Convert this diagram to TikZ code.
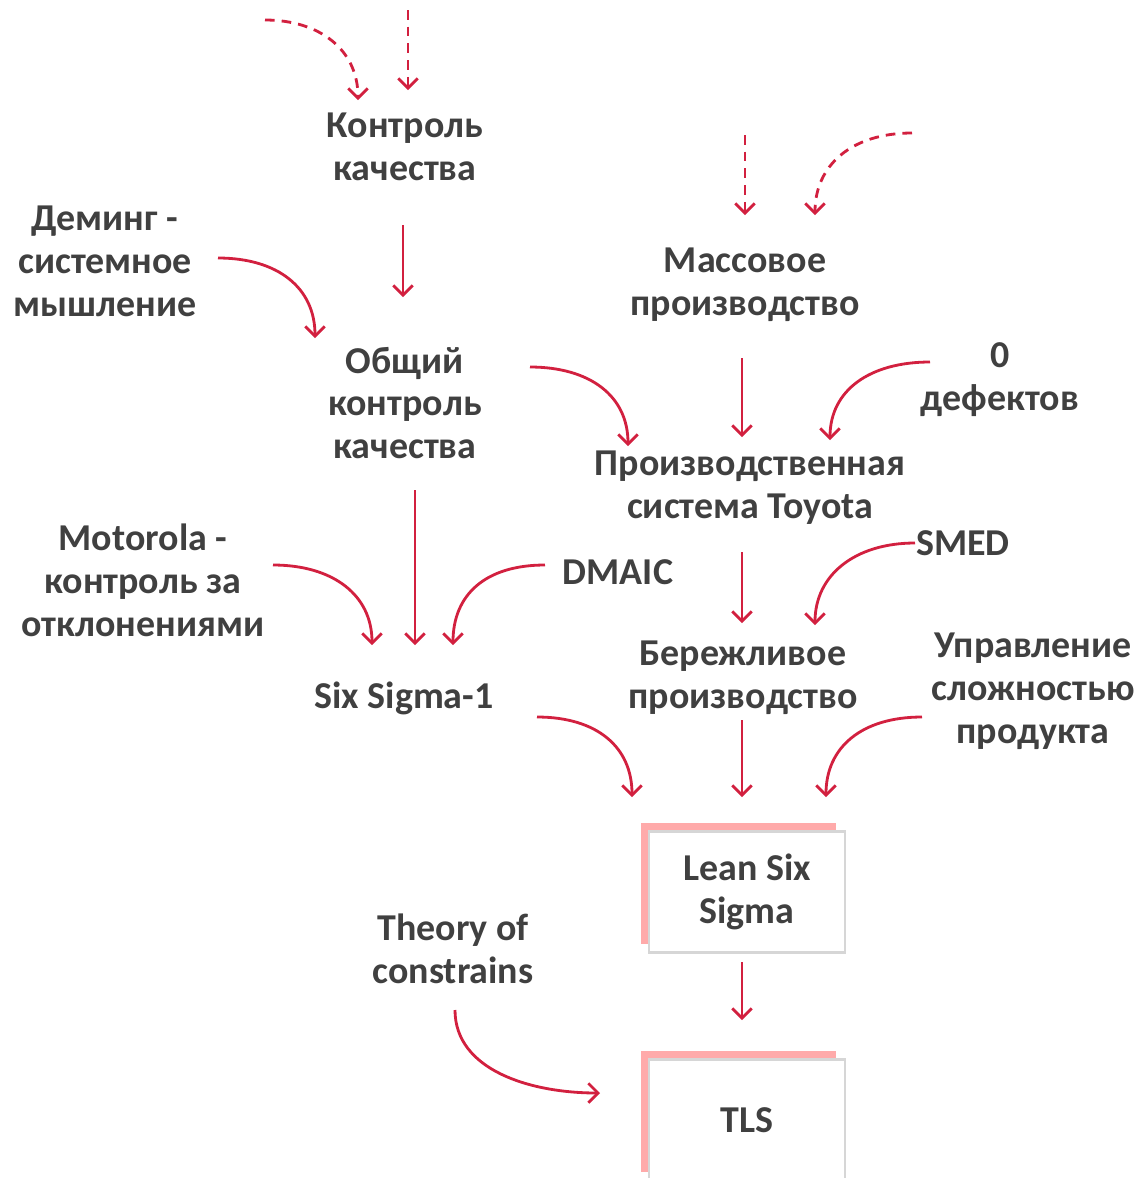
\documentclass[tikz,border=0pt]{standalone}
\usepackage{fontspec}
\setmainfont{Carlito}
\usepackage{xcolor}
\definecolor{crimson}{HTML}{D2203F}
\definecolor{textgray}{HTML}{404040}
\definecolor{boxgray}{HTML}{D6D6D6}
\definecolor{shadowpink}{HTML}{FFAAAA}
\usepackage{tikz}
\usetikzlibrary{
  arrows.meta,
  shadows
}

\begin{document}
\begin{tikzpicture}[
  x=0.02cm, y=-0.02cm,
  lbl/.style={align=center, text=textgray, font=\fontsize{21.6}{24.4}\selectfont\bfseries},
  box/.style={lbl, rectangle, draw=boxgray, line width=1.6pt, fill=white, minimum width=3.92cm, minimum height=2.42cm,
    general shadow={fill=shadowpink, shadow xshift=-0.17cm, shadow yshift=0.17cm}},
  arr/.style={-{Straight Barb[length=5.5pt, width=11pt]}, line width=1.6pt, crimson},
  darr/.style={arr, dash pattern=on 5.5pt off 4pt},
]
\clip (0,0) rectangle (1145,1178);

% Nodos
\node[lbl] (kontrol) at (405,147) {Контроль\\качества};
\node[lbl] (deming) at (105,261) {Деминг -\\системное\\мышление};
\node[lbl] (massovoe) at (745,285) {Массовое\\производство};
\node[lbl] (obshiy) at (405,403) {Общий\\контроль\\качества};
\node[lbl] (nuldef) at (1000,380) {0\\дефектов};
\node[lbl] (toyota) at (750,488) {Производственная\\система Toyota};
\node[lbl] (motorola) at (143,580) {Motorola -\\контроль за\\отклонениями};
\node[lbl] (dmaic) at (618,572) {DMAIC};
\node[lbl] (smed) at (963,543) {SMED};
\node[lbl] (sixsigma) at (404,698) {Six Sigma-1};
\node[lbl] (berezh) at (743,678) {Бережливое\\производство};
\node[lbl] (upravl) at (1033,691) {Управление\\сложностью\\продукта};
\node[box] (lss) at (747,892) {Lean Six\\Sigma};
\node[lbl] (toc) at (453,949) {Theory of\\constrains};
\node[box] (tls) at (747,1120) {TLS};

% Extremos de las flechas
\coordinate (kontrol-i1s) at (265,20);  \coordinate (kontrol-i1) at (358,100);
\coordinate (kontrol-i2s) at (408,10);  \coordinate (kontrol-i2) at (408,90);
\coordinate (kontrol-o) at (403,225);   \coordinate (obshiy-i1) at (403,297);
\coordinate (deming-o) at (218,258);    \coordinate (obshiy-i2) at (315,338);
\coordinate (massovoe-i1s) at (745,135); \coordinate (massovoe-i1) at (745,215);
\coordinate (massovoe-i2s) at (912,133); \coordinate (massovoe-i2) at (815,215);
\coordinate (massovoe-o) at (742,358);  \coordinate (toyota-i1) at (742,437);
\coordinate (obshiy-o1) at (530,367);   \coordinate (toyota-i2) at (628,446);
\coordinate (nuldef-o) at (930,362);    \coordinate (toyota-i3) at (830,440);
\coordinate (obshiy-o2) at (415,490);   \coordinate (sixsigma-i1) at (415,645);
\coordinate (motorola-o) at (273,565);  \coordinate (sixsigma-i2) at (372,645);
\coordinate (dmaic-o) at (545,565);     \coordinate (sixsigma-i3) at (453,645);
\coordinate (toyota-o) at (742,552);    \coordinate (berezh-i1) at (742,623);
\coordinate (smed-o) at (915,543);      \coordinate (berezh-i2) at (815,625);
\coordinate (sixsigma-o) at (537,717);  \coordinate (lss-i1) at (632,797);
\coordinate (berezh-o) at (742,720);    \coordinate (lss-i2) at (742,797);
\coordinate (upravl-o) at (922,717);    \coordinate (lss-i3) at (826,797);
\coordinate (lss-o) at (742,962);       \coordinate (tls-i1) at (742,1020);
\coordinate (toc-o) at (455,1010);      \coordinate (tls-i2) at (600,1093);

% Flechas punteadas (entradas externas)
\draw[darr] (kontrol-i1s) .. controls +(55,0) and +(0,-50) .. (kontrol-i1);
\draw[darr] (kontrol-i2s) -- (kontrol-i2);
\draw[darr] (massovoe-i1s) -- (massovoe-i1);
\draw[darr] (massovoe-i2s) .. controls +(-60,0) and +(0,-50) .. (massovoe-i2);

% Flechas entre etapas
\draw[arr] (kontrol-o) -- (obshiy-i1);
\draw[arr] (deming-o) .. controls +(60,0) and +(0,-50) .. (obshiy-i2);
\draw[arr] (massovoe-o) -- (toyota-i1);
\draw[arr] (obshiy-o1) .. controls +(60,0) and +(0,-50) .. (toyota-i2);
\draw[arr] (nuldef-o) .. controls +(-60,0) and +(0,-50) .. (toyota-i3);
\draw[arr] (obshiy-o2) -- (sixsigma-i1);
\draw[arr] (motorola-o) .. controls +(60,0) and +(0,-50) .. (sixsigma-i2);
\draw[arr] (dmaic-o) .. controls +(-60,0) and +(0,-50) .. (sixsigma-i3);
\draw[arr] (toyota-o) -- (berezh-i1);
\draw[arr] (smed-o) .. controls +(-60,0) and +(0,-50) .. (berezh-i2);
\draw[arr] (sixsigma-o) .. controls +(60,0) and +(0,-50) .. (lss-i1);
\draw[arr] (berezh-o) -- (lss-i2);
\draw[arr] (upravl-o) .. controls +(-60,0) and +(0,-50) .. (lss-i3);
\draw[arr] (lss-o) -- (tls-i1);
\draw[arr] (toc-o) .. controls +(0,60) and +(-70,0) .. (tls-i2);

\end{tikzpicture}
\end{document}
